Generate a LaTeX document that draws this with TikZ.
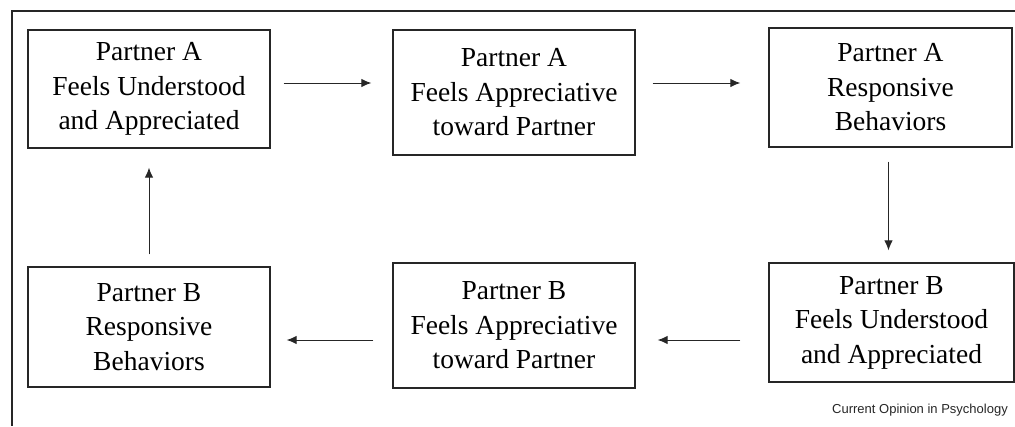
\documentclass[tikz,border=0pt]{standalone}
\usepackage{fontspec}
\setmainfont{Liberation Serif}
\newfontfamily\capfont{Liberation Sans}
\usetikzlibrary{arrows.meta}
\begin{document}
\begin{tikzpicture}[x=1pt,y=-1pt,
  box/.style={draw=black!85,line width=1.3pt,inner sep=0pt,align=center,
    font=\fontsize{27.5}{34.5}\selectfont,text=black},
  arr/.style={draw=black!85,line width=1pt,-{Latex[length=10pt,width=8.5pt]}},
  frame/.style={draw=black!85,line width=1.4pt}]
\useasboundingbox (0,0) rectangle (1015,426);
% frame
\coordinate (ftr) at (1015,11);
\coordinate (fc) at (12,11);
\coordinate (fbl) at (12,426);
\draw[frame] (ftr) -- (fc) -- (fbl);
% boxes
\node[box,minimum width=242pt,minimum height=118pt] (a1) at (149,89) {Partner A\\Feels Understood\\and Appreciated};
\node[box,minimum width=242pt,minimum height=125pt] (a2) at (514,92.5) {Partner A\\Feels Appreciative\\toward Partner};
\node[box,minimum width=243pt,minimum height=119pt] (a3) at (890.5,87.5) {Partner A\\Responsive\\Behaviors};
\node[box,minimum width=242pt,minimum height=120pt] (b1) at (149,327) {Partner B\\Responsive\\Behaviors};
\node[box,minimum width=242pt,minimum height=125pt] (b2) at (514,325.5) {Partner B\\Feels Appreciative\\toward Partner};
\node[box,minimum width=245pt,minimum height=119pt] (b3) at (891.5,322.5) {Partner B\\Feels Understood\\and Appreciated};
% arrows
\draw[arr] ([xshift=13pt]a1.east |- 0,83) -- ([xshift=-21pt]a2.west |- 0,83);
\draw[arr] ([xshift=17pt]a2.east |- 0,83) -- ([xshift=-28pt]a3.west |- 0,83);
\draw[arr] ([yshift=-14pt]a3.south -| 888.5,0) -- ([yshift=12pt]b3.north -| 888.5,0);
\draw[arr] ([xshift=-28pt]b3.west |- 0,340) -- ([xshift=22pt]b2.east |- 0,340);
\draw[arr] ([xshift=-19pt]b2.west |- 0,340) -- ([xshift=16pt]b1.east |- 0,340);
\draw[arr] ([yshift=12pt]b1.north) -- ([yshift=-19pt]a1.south);
% caption
\node[anchor=east,inner sep=0pt,font=\capfont\fontsize{13}{15}\selectfont,text=black!85] (cap) at (1008,410) {Current Opinion in Psychology};
\end{tikzpicture}
\end{document}
